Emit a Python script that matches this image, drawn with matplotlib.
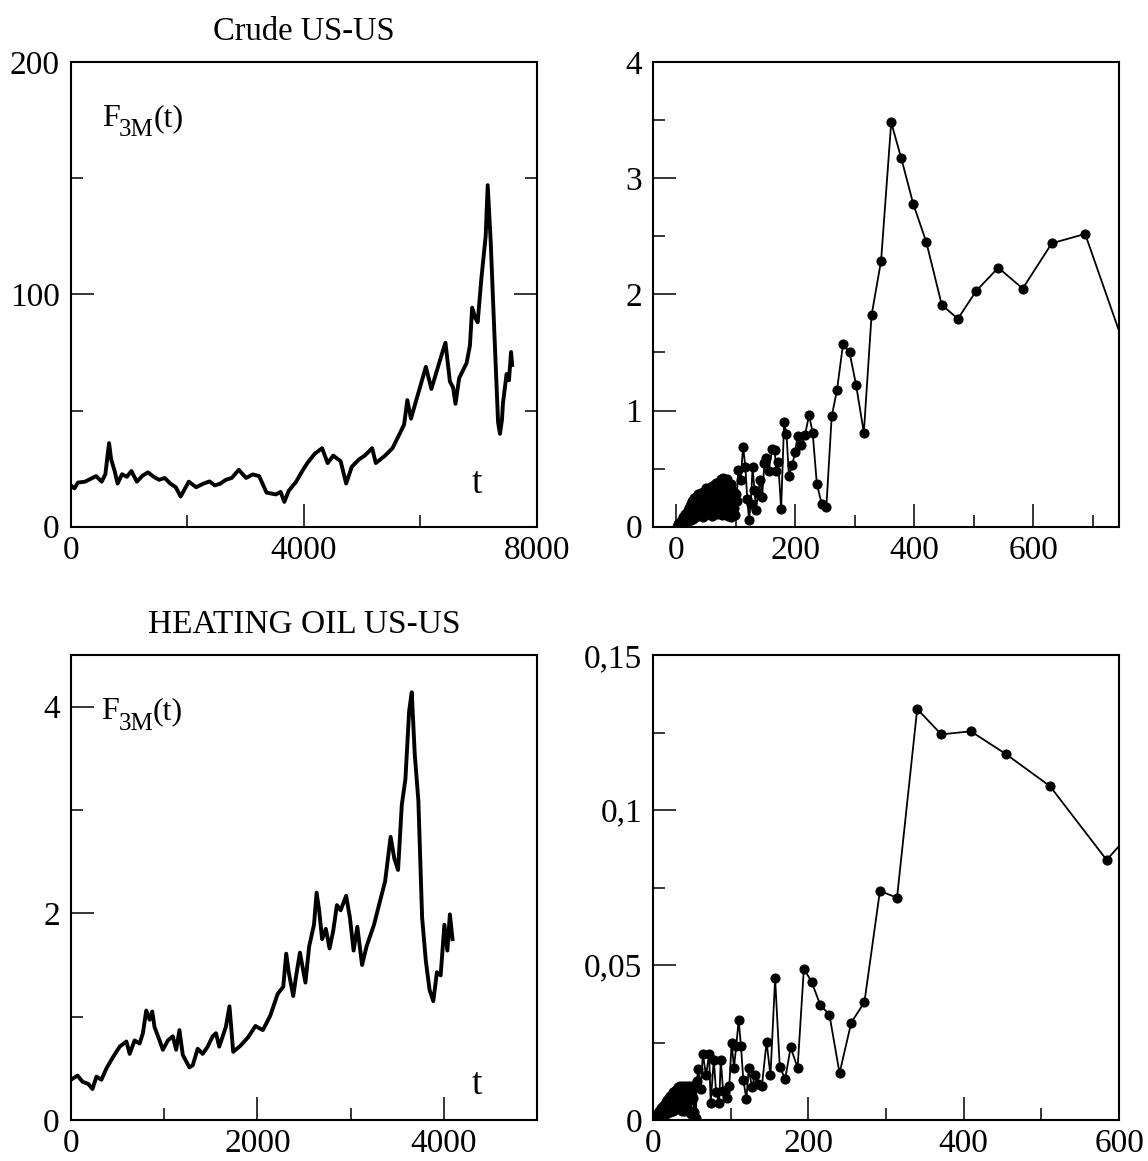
import matplotlib
matplotlib.use("Agg")
import matplotlib.pyplot as plt
from matplotlib.ticker import FixedLocator
from matplotlib.transforms import offset_copy

plt.rcParams['font.family'] = ['Liberation Serif', 'DejaVu Serif']
plt.rcParams['font.size'] = 24

# crude oil price series
crude_t = [0, 60, 120, 242, 330, 432, 528, 591, 625, 655, 690, 750, 801, 877, 960,
           1037, 1132, 1230, 1323, 1420, 1514, 1610, 1704, 1800, 1883, 2023, 2150,
           2277, 2380, 2468, 2560, 2658, 2760, 2881, 3008, 3120, 3231, 3358, 3517,
           3600, 3663, 3740, 3867, 3960, 4058, 4185, 4312, 4407, 4503, 4630, 4725,
           4821, 4948, 5043, 5171, 5234, 5393, 5520, 5647, 5720, 5775, 5838, 5900,
           5966, 6093, 6188, 6284, 6379, 6430, 6506, 6560, 6602, 6665, 6792, 6850,
           6888, 6940, 6983, 7047, 7120, 7155, 7206, 7270, 7333, 7365, 7400, 7416,
           7479, 7520, 7556, 7575]
crude_f = [17.8, 16.5, 19.0, 19.4, 20.5, 21.8, 19.4, 22.6, 30.0, 36.0, 29.0, 24.0,
           18.6, 22.6, 21.5, 24.0, 19.4, 22.0, 23.4, 21.5, 20.2, 21.0, 18.6, 17.0,
           13.0, 19.4, 17.0, 18.6, 19.5, 17.8, 18.5, 20.2, 21.0, 24.5, 21.0, 22.5,
           21.8, 14.7, 13.9, 15.0, 10.7, 15.5, 19.4, 23.5, 27.4, 31.4, 33.8, 27.4,
           30.6, 28.2, 18.6, 25.8, 29.0, 30.6, 33.8, 27.4, 30.6, 33.8, 40.2, 44.0,
           54.5, 46.5, 52.0, 57.7, 68.8, 59.3, 67.3, 75.2, 79.2, 62.5, 60.0, 52.9,
           64.0, 70.4, 78.0, 94.3, 90.0, 88.0, 107.0, 125.0, 147.0, 123.0, 83.0,
           45.0, 40.0, 46.0, 53.0, 65.7, 63.0, 75.2, 69.6]

# heating oil price series
heat_t = [0, 71, 125, 185, 231, 274, 327, 381, 452, 523, 595, 630, 683, 737, 772,
          808, 844, 872, 897, 951, 986, 1040, 1093, 1129, 1164, 1200, 1271, 1307,
          1360, 1413, 1467, 1520, 1556, 1591, 1662, 1701, 1741, 1820, 1900, 1980,
          2059, 2139, 2218, 2278, 2310, 2337, 2385, 2417, 2457, 2516, 2556, 2608,
          2636, 2663, 2695, 2735, 2775, 2814, 2854, 2894, 2953, 2993, 3033, 3073,
          3124, 3172, 3252, 3311, 3371, 3430, 3470, 3510, 3550, 3589, 3629, 3657,
          3689, 3728, 3768, 3808, 3848, 3888, 3927, 3967, 4007, 4039, 4066, 4094]
heat_f = [0.39, 0.43, 0.37, 0.35, 0.30, 0.42, 0.39, 0.50, 0.61, 0.71, 0.76, 0.64,
          0.77, 0.74, 0.84, 1.06, 0.97, 1.05, 0.90, 0.77, 0.68, 0.77, 0.81, 0.68,
          0.87, 0.63, 0.51, 0.53, 0.69, 0.64, 0.71, 0.81, 0.84, 0.71, 0.90, 1.10,
          0.66, 0.72, 0.80, 0.91, 0.87, 1.01, 1.22, 1.29, 1.61, 1.43, 1.20, 1.40,
          1.62, 1.33, 1.68, 1.89, 2.20, 2.03, 1.75, 1.85, 1.66, 1.83, 2.08, 2.03,
          2.17, 1.96, 1.64, 1.87, 1.50, 1.68, 1.89, 2.10, 2.31, 2.74, 2.53, 2.42,
          3.05, 3.30, 3.96, 4.14, 3.54, 3.09, 1.96, 1.54, 1.26, 1.15, 1.43, 1.40,
          1.89, 1.64, 1.99, 1.75]

# right column: dots joined by a line
crude_lag = list(range(1, 101)) + [
    101, 104, 108, 112, 116, 119, 122, 125, 128, 131, 134, 137, 141, 144, 148,
    151, 155, 161, 165, 168, 171, 176, 181, 185, 189, 195, 199, 204, 210, 216,
    223, 229, 236, 244, 252, 261, 270, 280, 291, 302, 315, 328, 344, 361, 378,
    398, 420, 446, 473, 504, 541, 582, 631, 687, 760]
crude_val = [
    0.00, 0.01, 0.02, 0.01, 0.03, 0.02, 0.05, 0.02, 0.06, 0.03,
    0.08, 0.03, 0.09, 0.05, 0.11, 0.04, 0.12, 0.06, 0.14, 0.05,
    0.16, 0.07, 0.18, 0.06, 0.20, 0.08, 0.22, 0.07, 0.25, 0.10,
    0.21, 0.08, 0.26, 0.11, 0.24, 0.09, 0.28, 0.12, 0.22, 0.10,
    0.29, 0.13, 0.25, 0.08, 0.30, 0.15, 0.27, 0.10, 0.33, 0.14,
    0.28, 0.11, 0.31, 0.16, 0.33, 0.12, 0.27, 0.18, 0.35, 0.09,
    0.30, 0.19, 0.36, 0.13, 0.32, 0.17, 0.38, 0.11, 0.37, 0.20,
    0.34, 0.14, 0.39, 0.22, 0.41, 0.10, 0.36, 0.24, 0.42, 0.12,
    0.40, 0.26, 0.38, 0.15, 0.41, 0.09, 0.35, 0.30, 0.33, 0.18,
    0.37, 0.08, 0.32, 0.21, 0.13, 0.30, 0.16, 0.24, 0.10, 0.28,
    0.22, 0.49, 0.40, 0.69, 0.51, 0.24, 0.06, 0.20, 0.51, 0.32, 0.14, 0.29,
    0.40, 0.26, 0.55, 0.59, 0.48, 0.67, 0.66, 0.48, 0.56, 0.15, 0.90, 0.80,
    0.44, 0.53, 0.64, 0.78, 0.70, 0.79, 0.96, 0.81, 0.37, 0.20, 0.17, 0.95,
    1.18, 1.57, 1.50, 1.22, 0.81, 1.82, 2.29, 3.48, 3.17, 2.78, 2.45, 1.91,
    1.79, 2.03, 2.23, 2.05, 2.44, 2.52, 1.45]

heat_lag = list(range(1, 57)) + [
    58, 61, 64, 68, 72, 74, 78, 81, 85, 87, 90, 92, 95, 98, 101, 104, 107, 110,
    113, 116, 120, 123, 127, 131, 135, 140, 146, 151, 157, 163, 170, 177, 186,
    194, 204, 215, 227, 240, 255, 272, 292, 314, 340, 371, 409, 454, 511, 584,
    620]
heat_val = [
    0.0000, 0.0008, 0.0003, 0.0015, 0.0006, 0.0022, 0.0010, 0.0030, 0.0012, 0.0038,
    0.0018, 0.0045, 0.0015, 0.0050, 0.0022, 0.0058, 0.0020, 0.0065, 0.0028, 0.0072,
    0.0025, 0.0078, 0.0035, 0.0082, 0.0030, 0.0090, 0.0040, 0.0095, 0.0034, 0.0100,
    0.0045, 0.0108, 0.0038, 0.0110, 0.0050, 0.0105, 0.0030, 0.0110, 0.0055, 0.0102,
    0.0028, 0.0110, 0.0060, 0.0108, 0.0035, 0.0110, 0.0065, 0.0095, 0.0020, 0.0110,
    0.0070, 0.0105, 0.0025, 0.0112, 0.0008, 0.0126,
    0.0164, 0.0100, 0.0212, 0.0144, 0.0212, 0.0056, 0.0195, 0.0089, 0.0056,
    0.0195, 0.0094, 0.0089, 0.0071, 0.0110, 0.0250, 0.0169, 0.0240, 0.0322,
    0.0240, 0.0130, 0.0068, 0.0169, 0.0106, 0.0144, 0.0117, 0.0110, 0.0252,
    0.0144, 0.0457, 0.0171, 0.0133, 0.0234, 0.0169, 0.0488, 0.0446, 0.0372,
    0.0339, 0.0151, 0.0314, 0.0380, 0.0739, 0.0717, 0.1326, 0.1244, 0.1254,
    0.1181, 0.1077, 0.0839, 0.0940]

fig = plt.figure(figsize=(11.48, 11.61), dpi=100)
ax_tl = fig.add_axes([0.0618, 0.5463, 0.4059, 0.4003])
ax_tr = fig.add_axes([0.5690, 0.5463, 0.4058, 0.4003])
ax_bl = fig.add_axes([0.0618, 0.0353, 0.4059, 0.4005])
ax_br = fig.add_axes([0.5690, 0.0353, 0.4058, 0.4005])


def style(ax):
    for s in ax.spines.values():
        s.set_linewidth(1.5)
    ax.tick_params(which='both', direction='in', width=1.1, top=False, right=False)
    ax.tick_params(which='major', length=16.5, pad=6, labelsize=24)
    ax.tick_params(which='minor', length=8.5)
    ax.tick_params(axis='y', which='major', pad=8)


def f3m_label(ax, x, y):
    # F with a lowered "3M" subscript, then (t)
    ax.text(x, y, 'F', fontsize=23, va='baseline')
    tr = offset_copy(ax.transData, fig=ax.figure, x=12.3, y=-7.5, units='points')
    ax.text(x, y, '3M', fontsize=18, va='baseline', transform=tr)
    tr = offset_copy(ax.transData, fig=ax.figure, x=37, y=0, units='points')
    ax.text(x, y, '(t)', fontsize=23, va='baseline', transform=tr)


# crude series
ax_tl.plot(crude_t, crude_f, color='black', lw=2.8)
ax_tl.set_xlim(0, 8000)
ax_tl.set_ylim(0, 200)
ax_tl.xaxis.set_major_locator(FixedLocator([0, 4000, 8000]))
ax_tl.xaxis.set_minor_locator(FixedLocator([2000, 6000]))
ax_tl.yaxis.set_major_locator(FixedLocator([0, 100, 200]))
ax_tl.yaxis.set_minor_locator(FixedLocator([50, 150]))
style(ax_tl)
ax_tl.tick_params(axis='y', which='both', right=True)
ax_tl.set_title('Crude US-US', fontsize=23.5, pad=16)
f3m_label(ax_tl, 530, 172.5)
ax_tl.text(6974, 14.7, 't', fontsize=27, ha='center', va='baseline')

# crude right panel
ax_tr.plot(crude_lag, crude_val, color='black', lw=1.3, marker='o', ms=6.3)
ax_tr.set_xlim(-39, 744)
ax_tr.set_ylim(0, 4)
ax_tr.xaxis.set_major_locator(FixedLocator([0, 200, 400, 600]))
ax_tr.xaxis.set_minor_locator(FixedLocator([100, 300, 500, 700]))
ax_tr.yaxis.set_major_locator(FixedLocator([0, 1, 2, 3, 4]))
ax_tr.yaxis.set_minor_locator(FixedLocator([0.5, 1.5, 2.5, 3.5]))
style(ax_tr)

# heating oil series
ax_bl.plot(heat_t, heat_f, color='black', lw=2.8)
ax_bl.set_xlim(0, 5000)
ax_bl.set_ylim(0, 4.5)
ax_bl.xaxis.set_major_locator(FixedLocator([0, 2000, 4000]))
ax_bl.xaxis.set_minor_locator(FixedLocator([1000, 3000]))
ax_bl.yaxis.set_major_locator(FixedLocator([0, 2, 4]))
ax_bl.yaxis.set_minor_locator(FixedLocator([1, 3]))
style(ax_bl)
ax_bl.set_title('HEATING OIL US-US', fontsize=24, pad=16)
f3m_label(ax_bl, 328, 3.88)
ax_bl.text(4359, 0.247, 't', fontsize=27, ha='center', va='baseline')

# heating oil right panel
ax_br.plot(heat_lag, heat_val, color='black', lw=1.3, marker='o', ms=6.3)
ax_br.set_xlim(0, 600)
ax_br.set_ylim(0, 0.15)
ax_br.xaxis.set_major_locator(FixedLocator([0, 200, 400, 600]))
ax_br.xaxis.set_minor_locator(FixedLocator([100, 300, 500]))
ax_br.yaxis.set_major_locator(FixedLocator([0, 0.05, 0.1, 0.15]))
ax_br.yaxis.set_minor_locator(FixedLocator([0.025, 0.075, 0.125]))
ax_br.set_yticklabels(['0', '0,05', '0,1', '0,15'])
style(ax_br)

fig.savefig('out.png', dpi=100)
